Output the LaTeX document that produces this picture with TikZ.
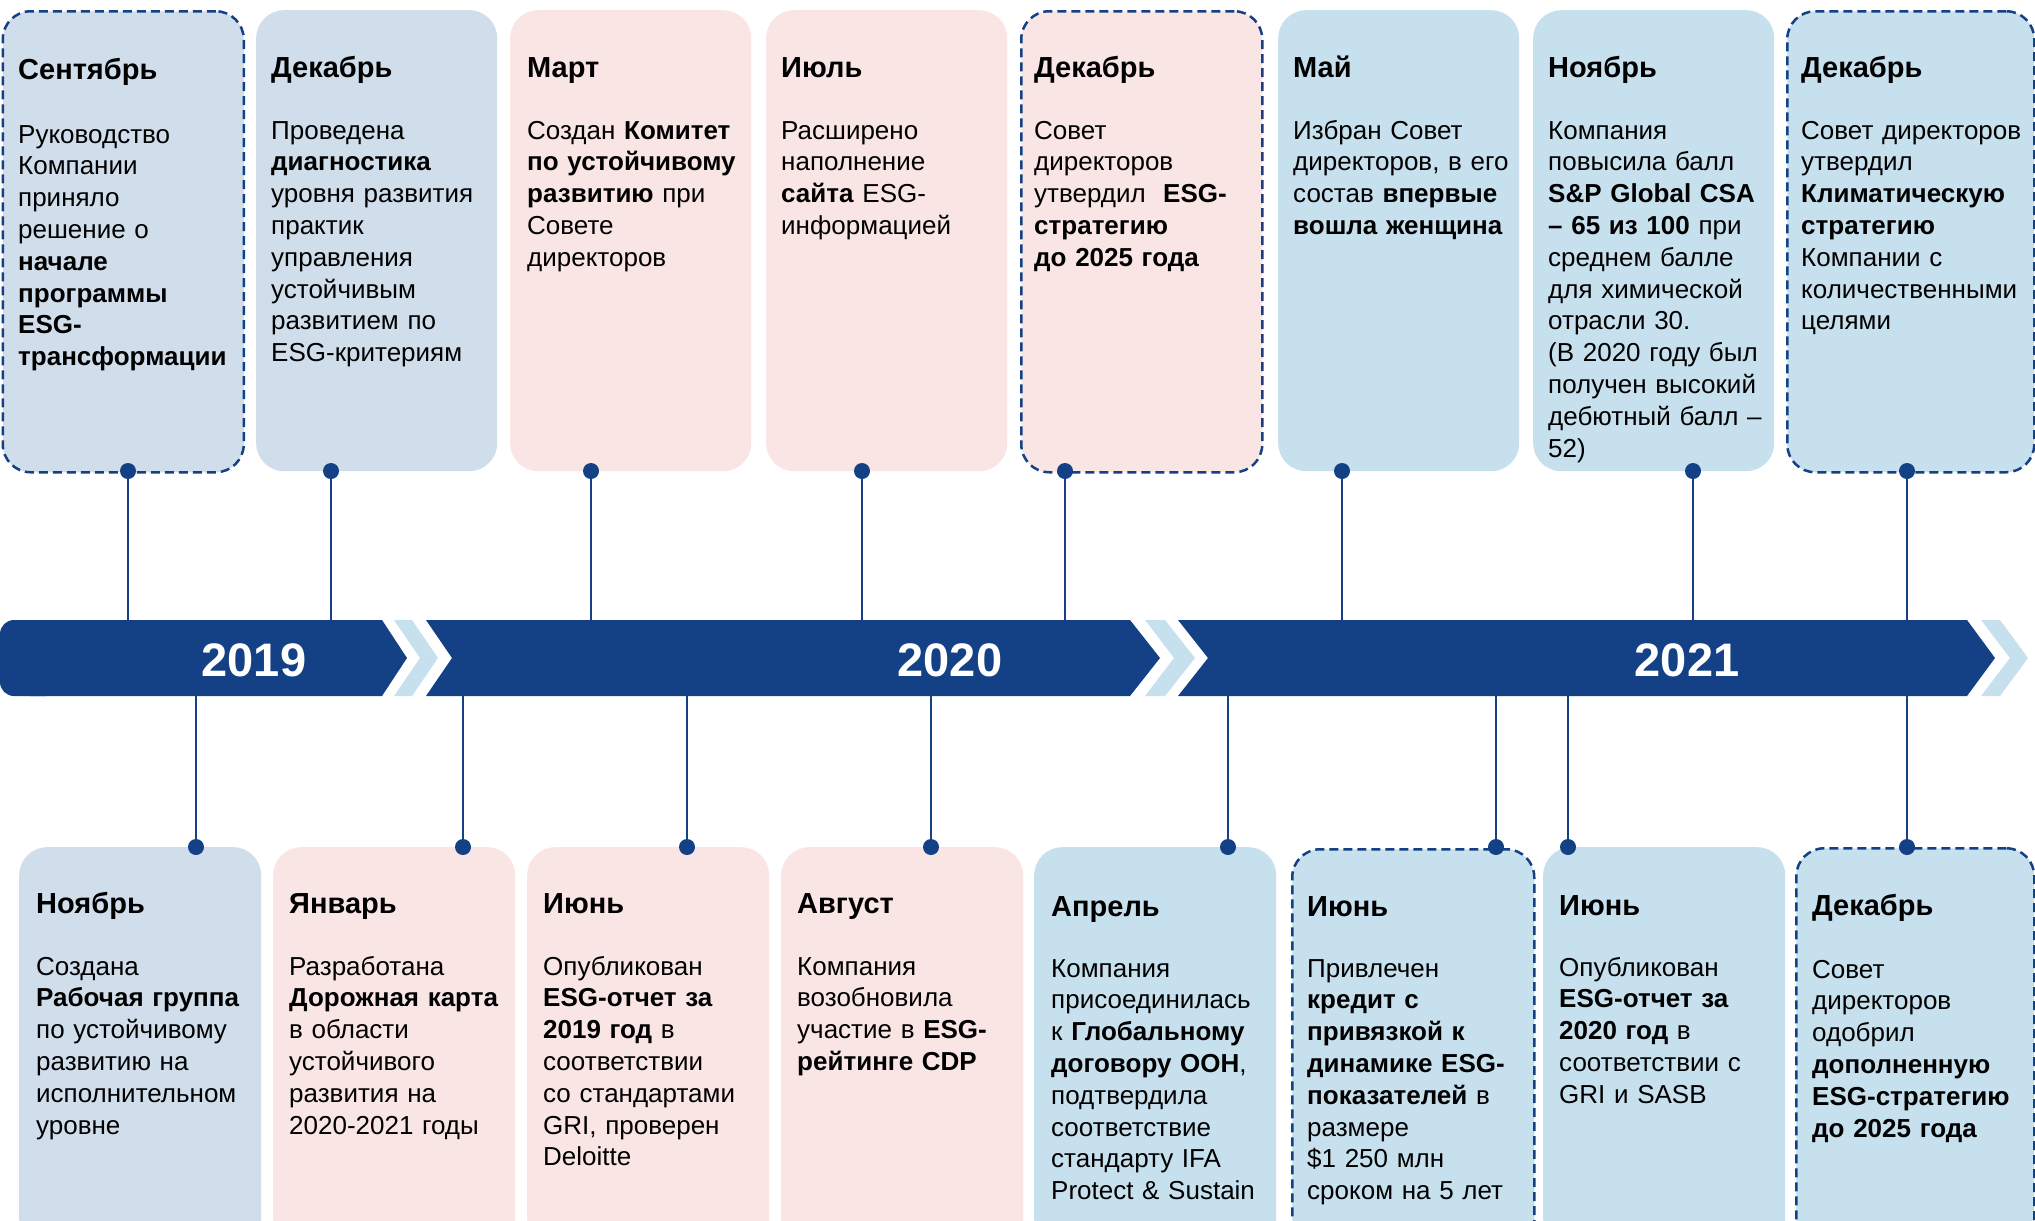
\documentclass[tikz,border=0pt]{standalone}
\usepackage{fontspec}
\setmainfont{Liberation Sans}
\definecolor{cA}{HTML}{D0DEEC}
\definecolor{cB}{HTML}{FAE5E5}
\definecolor{cC}{HTML}{C7E0EE}
\definecolor{navy}{HTML}{144185}
\tikzset{
  evbox/.style={rounded corners=28pt, inner sep=0pt, anchor=north west},
  topbox/.style={evbox, minimum height=461pt, minimum width=241pt},
  botbox/.style={evbox, minimum height=400pt, minimum width=242pt},
  dashbox/.style={draw=navy, line width=2.5pt, dash pattern=on 9pt off 5pt},
  ttl/.style={anchor=base west, inner sep=0pt, font=\fontsize{29}{34}\selectfont\bfseries},
  bdy/.style={anchor=base west, inner sep=0pt, text width=238pt, align=left, font=\fontsize{26}{31.8}\selectfont},
  conn/.style={draw=navy, line width=2.2pt},
  dotst/.style={circle, fill=navy, inner sep=0pt, minimum size=16pt},
  yr/.style={text=white, anchor=base, inner sep=0pt, font=\fontsize{47}{50}\selectfont\bfseries},
  barseg/.style={fill=navy},
  chev/.style={fill=cC}
}
\begin{document}
\begin{tikzpicture}[x=1pt,y=-1pt]
\path[use as bounding box] (0,0) rectangle (2035,1221);
\clip (0,0) rectangle (2035,1221);
\fill[white] (0,0) rectangle (2035,1221);

% ---------- top boxes ----------
\node[topbox, fill=cA, dashbox] (T1) at (1.5,10) {};
\node[topbox, fill=cA] (T2) at (256,10) {};
\node[topbox, fill=cB] (T3) at (510,10) {};
\node[topbox, fill=cB] (T4) at (766,10) {};
\node[topbox, fill=cB, dashbox] (T5) at (1020,10) {};
\node[topbox, fill=cC] (T6) at (1278,10) {};
\node[topbox, fill=cC] (T7) at (1533,10) {};
\node[topbox, fill=cC, dashbox, minimum width=247pt] (T8) at (1786,10) {};

% ---------- bottom boxes ----------
\node[botbox, fill=cA] (B1) at (19,847) {};
\node[botbox, fill=cB] (B2) at (273,847) {};
\node[botbox, fill=cB] (B3) at (527,847) {};
\node[botbox, fill=cB] (B4) at (781,847) {};
\node[botbox, fill=cC] (B5) at (1034,847) {};
\node[botbox, fill=cC, dashbox] (B6) at (1291,848) {};
\node[botbox, fill=cC] (B7) at (1543,847) {};
\node[botbox, fill=cC, dashbox, minimum width=238pt] (B8) at (1795,847) {};

% ---------- attach points on the bar ----------
\coordinate (T1a) at (128,620);
\coordinate (T2a) at (331,620);
\coordinate (T3a) at (591,620);
\coordinate (T4a) at (862,620);
\coordinate (T5a) at (1065,620);
\coordinate (T6a) at (1342,620);
\coordinate (T7a) at (1693,620);
\coordinate (T8a) at (1907,620);
\coordinate (B1a) at (196,696);
\coordinate (B2a) at (463,696);
\coordinate (B3a) at (687,696);
\coordinate (B4a) at (931,696);
\coordinate (B5a) at (1228,696);
\coordinate (B6a) at (1496,696);
\coordinate (B7a) at (1568,696);
\coordinate (B8a) at (1907,696);

% ---------- dots ----------
\node[dotst] (T1d) at (128,471) {};
\node[dotst] (T2d) at (331,471) {};
\node[dotst] (T3d) at (591,471) {};
\node[dotst] (T4d) at (862,471) {};
\node[dotst] (T5d) at (1065,471) {};
\node[dotst] (T6d) at (1342,471) {};
\node[dotst] (T7d) at (1693,471) {};
\node[dotst] (T8d) at (1907,471) {};
\node[dotst] (B1d) at (196,847) {};
\node[dotst] (B2d) at (463,847) {};
\node[dotst] (B3d) at (687,847) {};
\node[dotst] (B4d) at (931,847) {};
\node[dotst] (B5d) at (1228,847) {};
\node[dotst] (B6d) at (1496,847) {};
\node[dotst] (B7d) at (1568,847) {};
\node[dotst] (B8d) at (1907,847) {};

% ---------- connectors ----------
\foreach \n in {T1,T2,T3,T4,T5,T6,T7,T8}{\draw[conn] (\n d) -- (\n a);}
\foreach \n in {B1,B2,B3,B4,B5,B6,B7,B8}{\draw[conn] (\n a) -- (\n d);}

% ---------- timeline bar ----------
\fill[barseg, rounded corners=14pt] (0,620) rectangle (60,696);
\fill[barseg] (30,620) -- (382,620) -- (407,658) -- (382,696) -- (30,696) -- cycle;
\fill[chev] (394,620) -- (412,620) -- (438,658) -- (412,696) -- (394,696) -- (420,658) -- cycle;
\fill[barseg] (426,620) -- (1130,620) -- (1160,658) -- (1130,696) -- (426,696) -- (452,658) -- cycle;
\fill[chev] (1145,620) -- (1165,620) -- (1195,658) -- (1165,696) -- (1145,696) -- (1174,658) -- cycle;
\fill[barseg] (1178,620) -- (1967,620) -- (1995,658) -- (1967,696) -- (1178,696) -- (1208,658) -- cycle;
\fill[chev] (1981,620) -- (2000,620) -- (2028,658) -- (2000,696) -- (1981,696) -- (2010,658) -- cycle;
\node[yr] (Y19) at (254,676) {2019};
\node[yr] (Y20) at (950,676) {2020};
\node[yr] (Y21) at (1687,676) {2021};

% ---------- top texts ----------
\node[ttl] (T1h) at (18,79) {Сентябрь};
\node[bdy] (T1b) at (18,143) {Руководство\\Компании\\приняло\\решение о\\\textbf{начале}\\\textbf{программы}\\\textbf{ESG-}\\\textbf{трансформации}};
\node[ttl] (T2h) at (271,77) {Декабрь};
\node[bdy] (T2b) at (271,139) {Проведена\\\textbf{диагностика}\\уровня развития\\практик\\управления\\устойчивым\\развитием по\\ESG-критериям};
\node[ttl] (T3h) at (527,77) {Март};
\node[bdy] (T3b) at (527,139) {Создан \textbf{Комитет}\\\textbf{по устойчивому}\\\textbf{развитию} при\\Совете\\директоров};
\node[ttl] (T4h) at (781,77) {Июль};
\node[bdy] (T4b) at (781,139) {Расширено\\наполнение\\\textbf{сайта} ESG-\\информацией};
\node[ttl] (T5h) at (1034,77) {Декабрь};
\node[bdy] (T5b) at (1034,139) {Совет\\директоров\\утвердил~~\textbf{ESG-}\\\textbf{стратегию}\\\textbf{до 2025 года}};
\node[ttl] (T6h) at (1293,77) {Май};
\node[bdy] (T6b) at (1293,139) {Избран Совет\\директоров, в его\\состав \textbf{впервые}\\\textbf{вошла женщина}};
\node[ttl] (T7h) at (1548,77) {Ноябрь};
\node[bdy] (T7b) at (1548,139) {Компания\\повысила балл\\\textbf{S\&P Global CSA}\\\textbf{– 65 из 100} при\\среднем балле\\для химической\\отрасли 30.\\(В 2020 году был\\получен высокий\\дебютный балл –\\52)};
\node[ttl] (T8h) at (1801,77) {Декабрь};
\node[bdy] (T8b) at (1801,139) {Совет директоров\\утвердил\\\textbf{Климатическую}\\\textbf{стратегию}\\Компании с\\количественными\\целями};

% ---------- bottom texts ----------
\node[ttl] (B1h) at (36,913) {Ноябрь};
\node[bdy] (B1b) at (36,975) {Создана\\\textbf{Рабочая группа}\\по устойчивому\\развитию на\\исполнительном\\уровне};
\node[ttl] (B2h) at (289,913) {Январь};
\node[bdy] (B2b) at (289,975) {Разработана\\\textbf{Дорожная карта}\\в области\\устойчивого\\развития на\\2020-2021 годы};
\node[ttl] (B3h) at (543,913) {Июнь};
\node[bdy] (B3b) at (543,975) {Опубликован\\\textbf{ESG-отчет за}\\\textbf{2019 год} в\\соответствии\\со стандартами\\GRI, проверен\\Deloitte};
\node[ttl] (B4h) at (797,913) {Август};
\node[bdy] (B4b) at (797,975) {Компания\\возобновила\\участие в \textbf{ESG-}\\\textbf{рейтинге CDP}};
\node[ttl] (B5h) at (1051,916) {Апрель};
\node[bdy] (B5b) at (1051,977) {Компания\\присоединилась\\к \textbf{Глобальному}\\\textbf{договору ООН},\\подтвердила\\соответствие\\стандарту IFA\\Protect \& Sustain};
\node[ttl] (B6h) at (1307,916) {Июнь};
\node[bdy] (B6b) at (1307,977) {Привлечен\\\textbf{кредит с}\\\textbf{привязкой к}\\\textbf{динамике ESG-}\\\textbf{показателей} в\\размере\\\$1 250 млн\\сроком на 5 лет};
\node[ttl] (B7h) at (1559,915) {Июнь};
\node[bdy] (B7b) at (1559,976) {Опубликован\\\textbf{ESG-отчет за}\\\textbf{2020 год} в\\соответствии с\\GRI и SASB};
\node[ttl] (B8h) at (1812,915) {Декабрь};
\node[bdy] (B8b) at (1812,978) {Совет\\директоров\\одобрил\\\textbf{дополненную}\\\textbf{ESG-стратегию}\\\textbf{до 2025 года}};
\end{tikzpicture}
\end{document}
